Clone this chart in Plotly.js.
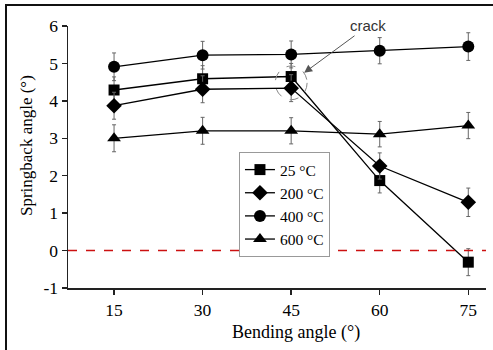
<!DOCTYPE html>
<html>
<head>
<meta charset="utf-8">
<script src="https://cdn.plot.ly/plotly-3.0.1.min.js"></script>
<style>
  html, body { margin: 0; padding: 0; background: #fff; }
  #wrap { position: relative; width: 493px; height: 350px; overflow: hidden; }
  #chart { position: absolute; left: 0; top: 0; width: 493px; height: 350px; }
  #frame { position: absolute; left: 5px; top: 4px; width: 600px; height: 600px;
           border-left: 2px solid #111; border-top: 2px solid #111; pointer-events: none; }
</style>
</head>
<body>
<div id="wrap">
  <div id="chart"></div>
  <div id="frame"></div>
</div>
<script>
// Data
const bendingAngles = [15, 30, 45, 60, 75];
const seriesNames = ['25 \u00B0C', '200 \u00B0C', '400 \u00B0C', '600 \u00B0C'];
const springback25  = [4.29, 4.59, 4.65, 1.87, -0.31];
const springback200 = [3.87, 4.31, 4.34, 2.26, 1.29];
const springback400 = [4.91, 5.22, 5.24, 5.34, 5.45];
const springback600 = [3.00, 3.20, 3.20, 3.11, 3.34];
const err25  = [0.35, 0.35, 0.35, 0.33, 0.36];
const err200 = [0.36, 0.36, 0.36, 0.35, 0.38];
const err400 = [0.37, 0.37, 0.36, 0.35, 0.37];
const err600 = [0.36, 0.36, 0.35, 0.34, 0.35];
const xTicks = [15, 30, 45, 60, 75];
const yTicks = [-1, 0, 1, 2, 3, 4, 5, 6];
const xTitle = 'Bending angle (\u00B0)';
const yTitle = 'Springback angle (\u00B0)';

const serif = 'Liberation Serif, Times New Roman, serif';
const symbols = ['square', 'diamond', 'circle', 'triangle-up'];
const sizes = [11, 12, 12, 12];
const ys = [springback25, springback200, springback400, springback600];
const errs = [err25, err200, err400, err600];

const traces = ys.map((y, i) => ({
  type: 'scatter', mode: 'lines+markers',
  x: bendingAngles, y: y, name: seriesNames[i],
  line: { color: '#000', width: 1.3 },
  marker: { symbol: symbols[i], size: sizes[i], color: '#000' },
  error_y: { type: 'data', array: errs[i], visible: true, color: '#666', thickness: 1, width: 2 }
}));

const layout = {
  width: 493, height: 350,
  margin: { l: 68, r: 7, t: 26, b: 62 },
  paper_bgcolor: '#fff', plot_bgcolor: '#fff',
  showlegend: true,
  legend: {
    x: 0.409, y: 0.519, xanchor: 'left', yanchor: 'top',
    bgcolor: '#fff', bordercolor: '#999', borderwidth: 1,
    font: { family: serif, size: 15.5, color: '#000' },
    itemwidth: 30, tracegroupgap: 0
  },
  xaxis: {
    range: [7.2, 78], tickvals: xTicks, ticktext: xTicks.map(String),
    showline: true, linecolor: '#222', linewidth: 1.5,
    ticks: 'outside', ticklen: 5, tickcolor: '#222', tickwidth: 1.5,
    showgrid: false, zeroline: false,
    tickfont: { family: serif, size: 17.5, color: '#000' }
  },
  yaxis: {
    range: [-1, 6], tickvals: yTicks, ticktext: yTicks.map(String),
    showline: true, linecolor: '#222', linewidth: 1.5,
    ticks: 'outside', ticklen: 5, tickcolor: '#222', tickwidth: 1.5,
    showgrid: false, zeroline: false,
    tickfont: { family: serif, size: 17.5, color: '#000' }
  },
  shapes: [
    { type: 'line', xref: 'paper', x0: 0, x1: 1, yref: 'y', y0: 0, y1: 0,
      line: { color: '#cc1111', width: 1.5, dash: 'dash' } },
    { type: 'circle', xref: 'x', yref: 'y', x0: 42.3, x1: 47.7, y0: 4.03, y1: 4.93,
      line: { color: '#888', width: 1, dash: 'dash' } }
  ],
  annotations: [
    { x: 47.2, y: 4.75, xref: 'x', yref: 'y', text: 'crack',
      showarrow: true, ax: 64, ay: -47, arrowhead: 2, arrowsize: 1.6, arrowwidth: 1,
      arrowcolor: '#555', standoff: 0,
      font: { family: 'Liberation Sans, Arial, sans-serif', size: 15, color: '#333' } },
    { x: 0.545, y: -0.168, xref: 'paper', yref: 'paper', text: xTitle, showarrow: false,
      xanchor: 'center', yanchor: 'middle',
      font: { family: serif, size: 18, color: '#000' } },
    { x: -0.098, y: 0.542, xref: 'paper', yref: 'paper', text: yTitle, showarrow: false,
      textangle: -90, xanchor: 'center', yanchor: 'middle',
      font: { family: serif, size: 17, color: '#000' } }
  ]
};

Plotly.newPlot('chart', traces, layout, { displayModeBar: false, staticPlot: true });
</script>
</body>
</html>
